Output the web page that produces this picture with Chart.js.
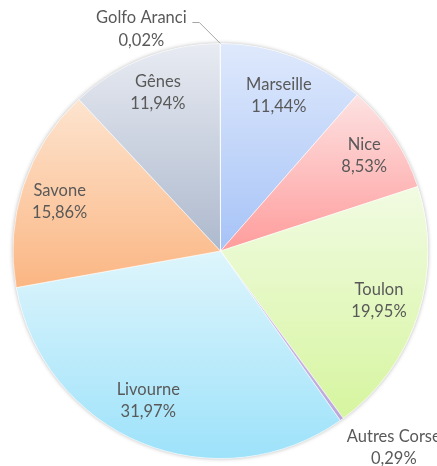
<!DOCTYPE html>
<html>
<head>
<meta charset="utf-8">
<script src="https://cdn.jsdelivr.net/npm/chart.js@4.4.1/dist/chart.umd.min.js"></script>
<style>
html,body{margin:0;padding:0;background:#fff;}
#wrap{width:437px;height:466px;position:relative;}
</style>
</head>
<body>
<div id="wrap"><canvas id="c" width="437" height="466"></canvas></div>
<script>
const categories = ["Marseille", "Nice", "Toulon", "Autres Corse", "Livourne", "Savone", "Gênes", "Golfo Aranci"];
const shares = [11.44, 8.53, 19.95, 0.29, 31.97, 15.86, 11.94, 0.02];
const valueLabels = ["11,44%", "8,53%", "19,95%", "0,29%", "31,97%", "15,86%", "11,94%", "0,02%"];

const topColors = ["#dfe9fc", "#fde2e2", "#f1fbe2", "#d6c8ec", "#def5fc", "#fde4cf", "#e8ebf2", "#e0e0e0"];
const bottomColors = ["#a6c3f7", "#ff9c9c", "#d6f59f", "#bba6dc", "#9de2fa", "#fbb683", "#adb9cd", "#b0b0b0"];

function sliceGradient(context) {
  const chart = context.chart;
  const i = context.dataIndex;
  const area = chart.chartArea;
  if (!area) return bottomColors[i];
  const cx = (area.left + area.right) / 2;
  const cy = (area.top + area.bottom) / 2;
  const r = Math.min(area.right - area.left, area.bottom - area.top) / 2;
  const total = shares.reduce((a, b) => a + b, 0);
  let cum = 0;
  for (let k = 0; k < i; k++) cum += shares[k];
  const a0 = -Math.PI / 2 + (cum / total) * 2 * Math.PI;
  const a1 = a0 + (shares[i] / total) * 2 * Math.PI;
  const ys = [cy, cy + r * Math.sin(a0), cy + r * Math.sin(a1)];
  [Math.PI / 2, 3 * Math.PI / 2, -Math.PI / 2].forEach(a => {
    if (a > a0 && a < a1) ys.push(cy + r * Math.sin(a));
  });
  const y0 = Math.min(...ys), y1 = Math.max(...ys);
  const g = chart.ctx.createLinearGradient(0, y0, 0, y1 + 0.01);
  g.addColorStop(0, topColors[i]);
  g.addColorStop(1, bottomColors[i]);
  return g;
}

// Label placement: factor of radius (and small angular tweak, degrees) for inside labels
const labelStyle = [
  {f: 0.80, da: 0}, {f: 0.83, da: 0}, {f: 0.80, da: -0.5}, {outside: true},
  {f: 0.80, da: 3.5}, {f: 0.81, da: -1.5}, {f: 0.82, da: 0}, {outside: true, leader: true}
];

const labelPlugin = {
  id: "sliceLabels",
  beforeDatasetsDraw(chart) {
    const ctx = chart.ctx;
    const meta = chart.getDatasetMeta(0);
    const arc = meta.data[0];
    ctx.save();
    ctx.shadowColor = "rgba(0,0,0,0.3)";
    ctx.shadowBlur = 4;
    ctx.beginPath();
    ctx.arc(arc.x, arc.y, arc.outerRadius, 0, Math.PI * 2);
    ctx.fillStyle = "#ffffff";
    ctx.fill();
    ctx.restore();
  },
  afterDatasetsDraw(chart) {
    const ctx = chart.ctx;
    const meta = chart.getDatasetMeta(0);
    ctx.save();
    ctx.font = "16.5px Lato, 'Open Sans', sans-serif";
    ctx.fillStyle = "#595959";
    ctx.textBaseline = "middle";
    ctx.textAlign = "center";
    meta.data.forEach((el, i) => {
      const mid = (el.startAngle + el.endAngle) / 2;
      const R = el.outerRadius;
      const st = labelStyle[i];
      if (!st.outside) {
        const a = mid + st.da * Math.PI / 180;
        const x = el.x + Math.cos(a) * R * st.f;
        const y = el.y + Math.sin(a) * R * st.f;
        ctx.fillText(categories[i], x, y - 11);
        ctx.fillText(valueLabels[i], x, y + 11);
      } else if (st.leader) {
        const ex = el.x + Math.cos(mid) * R;
        const ey = el.y + Math.sin(mid) * R;
        ctx.strokeStyle = "#a6a6a6";
        ctx.lineWidth = 1;
        ctx.beginPath();
        ctx.moveTo(ex, ey);
        ctx.lineTo(ex - 21, ey - 21);
        ctx.lineTo(ex - 28, ey - 21);
        ctx.stroke();
        const lx = ex - 79;
        ctx.fillText(categories[i], lx, ey - 26);
        ctx.fillText(valueLabels[i], lx, ey - 3);
      } else {
        const ex = el.x + Math.cos(mid) * R;
        const ey = el.y + Math.sin(mid) * R;
        const lx = ex + 52;
        const ly = ey + 17;
        ctx.fillText(categories[i], lx, ly);
        ctx.fillText(valueLabels[i], lx, ly + 22);
      }
    });
    ctx.restore();
  }
};

new Chart(document.getElementById("c"), {
  type: "pie",
  data: {
    labels: categories,
    datasets: [{
      data: shares,
      backgroundColor: sliceGradient,
      borderColor: "rgba(255,255,255,0.55)",
      borderWidth: 1
    }]
  },
  options: {
    responsive: false,
    animation: false,
    layout: {padding: {top: 43, bottom: 7, left: 12, right: 8}},
    plugins: {legend: {display: false}, tooltip: {enabled: false}}
  },
  plugins: [labelPlugin]
});
</script>
</body>
</html>
